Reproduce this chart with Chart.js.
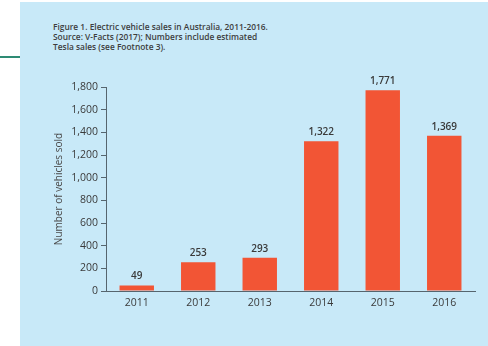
<!DOCTYPE html>
<html>
<head>
<meta charset="utf-8">
<script src="https://cdn.jsdelivr.net/npm/chart.js@4.4.1/dist/chart.umd.min.js"></script>
<style>
    body { margin: 0; background: #ffffff; }
    #wrap { position: relative; width: 488px; height: 346px; overflow: hidden; }
    #panel { position: absolute; left: 20px; top: 2px; right: 0; bottom: 0; background: #c8e9f8; }
    #rule { position: absolute; left: 0; top: 56px; width: 20px; height: 2px; background: #2e8b74; }
    #caption {
        position: absolute; left: 53px; top: 22px;
        font-family: "Open Sans", sans-serif; font-size: 8.4px; font-weight: 600;
        line-height: 10px; color: #3d3d3d;
    }
    #chart { position: absolute; left: 0; top: 0; }
</style>
</head>
<body>
<div id="wrap">
    <div id="panel"></div>
    <div id="rule"></div>
    <div id="caption">
        Figure 1. Electric vehicle sales in Australia, 2011-2016.<br>
        Source: V-Facts (2017); Numbers include estimated<br>
        Tesla sales (see Footnote 3).
    </div>
    <canvas id="chart" width="488" height="346"></canvas>
</div>
<script>
// data
const years = ['2011', '2012', '2013', '2014', '2015', '2016'];
const sales = [49, 253, 293, 1322, 1771, 1369];
const yTicks = [0, 200, 400, 600, 800, 1000, 1200, 1400, 1600, 1800];

const barColor = '#f25535';
const axisColor = '#56656e';
const textColor = '#3a3a3a';

// draws the number above each bar (no datalabels plugin available offline)
const valueLabels = {
    id: 'valueLabels',
    afterDatasetsDraw(chart) {
        const ctx = chart.ctx;
        const meta = chart.getDatasetMeta(0);
        ctx.save();
        ctx.font = '600 10px "Open Sans", sans-serif';
        ctx.fillStyle = textColor;
        ctx.textAlign = 'center';
        ctx.textBaseline = 'alphabetic';
        meta.data.forEach((bar, i) => {
            const value = chart.data.datasets[0].data[i];
            ctx.fillText(value.toLocaleString('en-US'), bar.x, bar.y - 6);
        });
        ctx.restore();
    }
};

const ctx = document.getElementById('chart').getContext('2d');
new Chart(ctx, {
    type: 'bar',
    data: {
        labels: years,
        datasets: [{
            data: sales,
            backgroundColor: barColor,
            barPercentage: 0.56,
            categoryPercentage: 1.0
        }]
    },
    options: {
        responsive: false,
        animation: false,
        layout: { padding: { left: 50, top: 87, right: 13, bottom: 0 } },
        plugins: {
            legend: { display: false },
            tooltip: { enabled: false }
        },
        scales: {
            x: {
                grid: { display: false, drawTicks: false },
                border: { color: axisColor, width: 1 },
                ticks: {
                    color: textColor,
                    padding: 6,
                    font: { family: 'Open Sans', size: 10.5 }
                },
                afterFit: (scale) => { scale.height = 55; }
            },
            y: {
                min: 0,
                max: 1800,
                afterBuildTicks: (scale) => {
                    scale.ticks = yTicks.map(v => ({ value: v }));
                },
                grid: {
                    drawOnChartArea: false,
                    drawTicks: true,
                    tickLength: 5,
                    color: axisColor
                },
                border: { color: axisColor, width: 1 },
                ticks: {
                    color: textColor,
                    padding: 3,
                    font: { family: 'Open Sans', size: 10.5 },
                    callback: (v) => Number(v).toLocaleString('en-US')
                },
                title: {
                    display: true,
                    text: 'Number of vehicles sold',
                    color: '#4a4a4a',
                    padding: { top: 3, bottom: 0 },
                    font: { family: 'Open Sans', size: 10 }
                },
                afterFit: (scale) => { scale.width = 56; }
            }
        }
    },
    plugins: [valueLabels]
});
</script>
</body>
</html>
